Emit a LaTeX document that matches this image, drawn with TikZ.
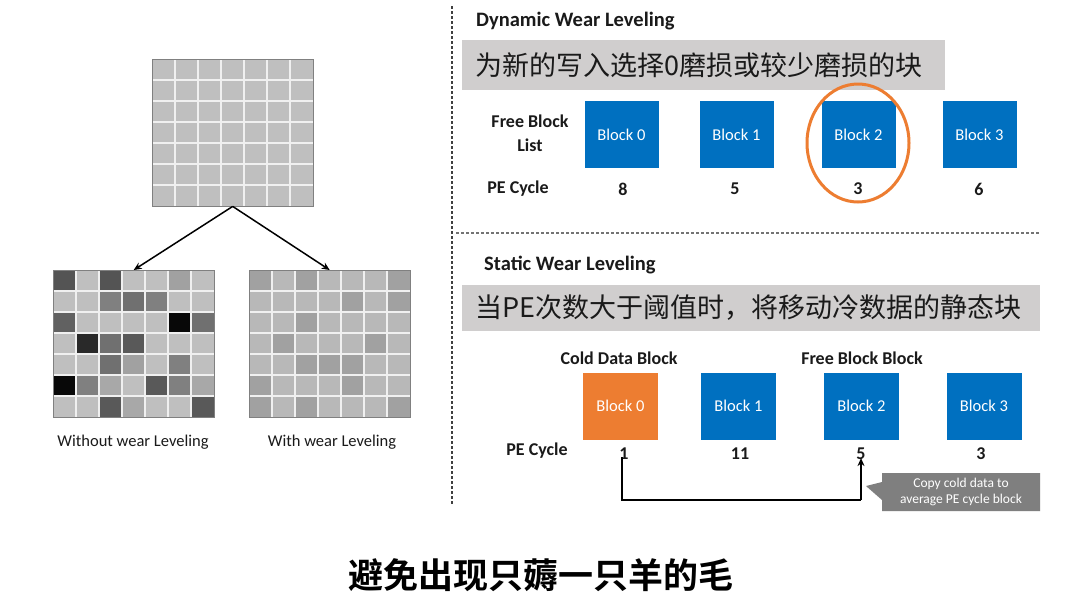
\documentclass[tikz,border=0pt]{standalone}
\usepackage{fontspec}
\setmainfont{Carlito}
\newfontfamily\cjk{Noto Sans CJK SC}[BoldFont={Noto Sans CJK SC Bold}]
\usetikzlibrary{arrows.meta,shapes.callouts,shapes.geometric}
\definecolor{blk}{HTML}{0070C0}
\definecolor{org}{HTML}{ED7D31}
\definecolor{gbox}{HTML}{D0CECE}
\definecolor{cgray}{HTML}{7F7F7F}
\definecolor{txt}{HTML}{1A1A1A}
\definecolor{gline}{HTML}{F0F0F0}
\definecolor{gborder}{HTML}{808080}
\newcommand\mygrid[3]{%
  \foreach \row [count=\r from 0] in {#3} {
    \foreach \v [count=\c from 0] in \row {
      \fill[white!\v!black] ({#1+\c*23},{#2+\r*21}) rectangle ++(23,21);
    }
  }
  \foreach \i in {1,...,6} {
    \draw[gline, line width=2.4] ({#1+\i*23},#2) -- ++(0,147);
    \draw[gline, line width=2.4] (#1,{#2+\i*21}) -- ++(161,0);
  }
  \draw[gborder, line width=1] (#1,#2) rectangle ++(161,147);
}
\tikzset{
  gridnode/.style={minimum width=161, minimum height=147, inner sep=0, anchor=north west},
  lbl/.style={text=txt, font=\fontsize{16.5}{18}\selectfont, inner sep=0},
  sectitle/.style={text=txt, font=\bfseries\fontsize{20.5}{22}\selectfont, anchor=west, inner sep=0},
  rowlbl/.style={text=txt, font=\bfseries\fontsize{18}{24}\selectfont, align=center, inner sep=0},
  num/.style={text=txt, font=\bfseries\fontsize{18}{20}\selectfont, inner sep=1},
  blueblk/.style={fill=blk, text=white, minimum width=74, minimum height=67, inner sep=0, font=\fontsize{16.5}{18}\selectfont},
  orgblk/.style={blueblk, fill=org},
  graybox/.style={fill=gbox, inner sep=0, anchor=north west},
  cjktext/.style={font=\cjk\fontsize{27}{30}\selectfont, text=txt, anchor=west, inner sep=0},
  divider/.style={line width=1.2, dash pattern=on 3pt off 2pt},
  flow/.style={line width=1.5, -{Stealth[length=8pt,width=7pt]}}
}
\begin{document}
\begin{tikzpicture}[x=1pt,y=-1pt]
\useasboundingbox (0,0) rectangle (1080,606);
\fill[white] (0,0) rectangle (1080,606);

% ---- left: grids ----
\node[gridnode] (gtop) at (152,59) {};
\node[gridnode] (gl) at (53,270) {};
\node[gridnode] (gr) at (249,270) {};
\mygrid{152}{59}{{75,75,75,75,75,75,75},{75,75,75,75,75,75,75},{75,75,75,75,75,75,75},{75,75,75,75,75,75,75},{75,75,75,75,75,75,75},{75,75,75,75,75,75,75},{75,75,75,75,75,75,75}}
\mygrid{53}{270}{{33,75,33,75,75,63,75},{75,75,50,44,50,75,75},{38,75,75,75,75,3,44},{75,16,44,35,75,75,75},{75,75,44,63,75,50,75},{3,50,66,75,35,50,66},{75,75,35,66,75,75,35}}
\mygrid{249}{270}{{63,72,63,72,72,72,63},{72,72,72,72,63,72,63},{72,72,63,72,72,72,72},{72,63,72,72,72,63,72},{72,72,63,63,63,72,72},{63,72,72,72,63,72,72},{63,72,63,72,72,72,63}}
\draw[flow] (gtop.south) -- (gl.north);
\draw[flow] (gtop.south) -- (gr.north);
\node[lbl] (lwo) at (133,442) {Without wear Leveling};
\node[lbl] (lw) at (332,442) {With wear Leveling};

% ---- dividers ----
\draw[divider, black!75] (452,6) -- (452,505);
\draw[divider, black!55] (456,233) -- (1040,233);

% ---- dynamic ----
\node[sectitle] (dtitle) at (476,21) {Dynamic Wear Leveling};
\node[graybox, minimum width=483, minimum height=50] (g1) at (462,40) {};
\node[cjktext] (g1t) at (475,65) {为新的写入选择0磨损或较少磨损的块};
\node[rowlbl] (fbl) at (530,133) {Free Block\\List};
\node[rowlbl] (dpe) at (518,189) {PE Cycle};
\node[blueblk] (d0) at (621.5,134.5) {Block 0};
\node[blueblk] (d1) at (736.5,134.5) {Block 1};
\node[blueblk] (d2) at (858.5,134.5) {Block 2};
\node[blueblk] (d3) at (979.5,134.5) {Block 3};
\node[num] (dn0) at (623,189) {8};
\node[num] (dn1) at (735,189) {5};
\node[num] (dn2) at (858,189) {3};
\node[num] (dn3) at (979,189) {6};
\node[draw=org, line width=3, ellipse, minimum width=102, minimum height=118, inner sep=0] (ring) at (858,143) {};

% ---- static ----
\node[sectitle] (stitle) at (484,265) {Static Wear Leveling};
\node[graybox, minimum width=578, minimum height=46] (g2) at (462,285) {};
\node[cjktext] (g2t) at (475,308) {当PE次数大于阈值时，将移动冷数据的静态块};
\node[rowlbl] (cdb) at (619,358) {Cold Data Block};
\node[rowlbl] (fbb) at (862,358) {Free Block Block};
\node[rowlbl] (spe) at (537,451) {PE Cycle};
\node[orgblk, minimum width=75] (s0) at (620.5,406) {Block 0};
\node[blueblk, minimum width=75] (s1) at (738.5,406) {Block 1};
\node[blueblk, minimum width=75] (s2) at (861.5,406) {Block 2};
\node[blueblk, minimum width=75] (s3) at (984,406) {Block 3};
\node[num] (sn0) at (624,454) {1};
\node[num] (sn1) at (740,454) {11};
\node[num] (sn2) at (861,454) {5};
\node[num] (sn3) at (981,454) {3};
\coordinate (low) at (0,500);
\draw[line width=1.5] ([xshift=-2pt,yshift=4pt]sn0.south) -- ([xshift=-2pt]sn0.south |- low) -- (sn2.south |- low);
\draw[flow] (sn2.south |- low) -- ([yshift=3pt]sn2.south);
\coordinate (tip) at (866,486);
\node[rectangle callout, fill=cgray, text=white, callout absolute pointer={(tip)}, callout pointer width=18pt,
      minimum width=158, minimum height=38, inner sep=0, align=center,
      font=\fontsize{13.5}{16}\selectfont] (cb) at (961,492) {Copy cold data to\\average PE cycle block};

% ---- bottom title ----
\node[font=\cjk\bfseries\fontsize{35}{38}\selectfont, text=black, inner sep=0] (bt) at (541,575) {避免出现只薅一只羊的毛};
\end{tikzpicture}
\end{document}
